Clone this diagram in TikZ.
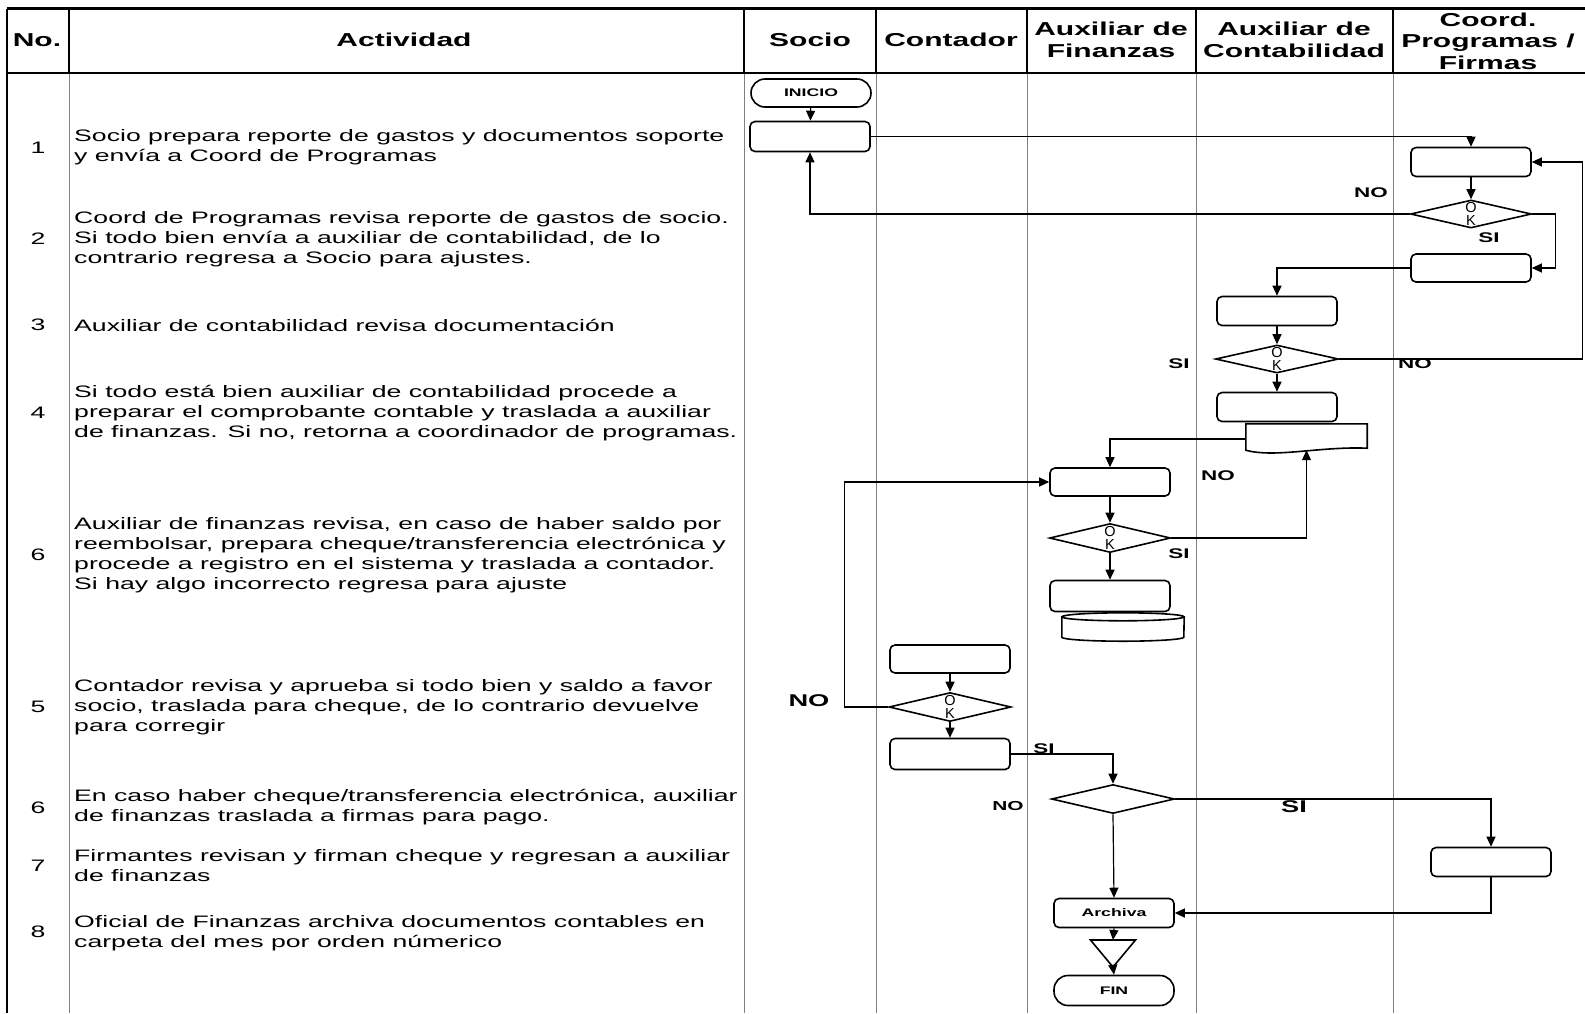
\documentclass[tikz,border=0pt]{standalone}
\usepackage{fontspec}
\setmainfont{Liberation Sans}[FakeStretch=1.605]
\newfontfamily\okfont{Liberation Sans}
\usetikzlibrary{arrows.meta,shapes.geometric}

\def\ytop{8.5}
\def\yhead{73}
\def\ybase{1013}

\tikzset{
  caja/.style={draw,line width=1.6pt,rounded corners=5pt,minimum width=120pt,minimum height=29pt,inner sep=0pt},
  term/.style={caja,rounded corners=14pt,font=\fontsize{11}{12}\selectfont\bfseries},
  decision/.style={draw,diamond,line width=1.6pt,minimum width=121pt,minimum height=28pt,inner sep=0pt},
  ok/.style={label={[font=\okfont\fontsize{14.5}{13}\selectfont,align=center,inner sep=0pt]center:O\\K}},
  flecha/.style={-{Triangle[length=10pt,width=9pt]},line width=1.2pt},
  linea/.style={line width=1.2pt},
  etq/.style={font=\fontsize{14}{16}\selectfont\bfseries,inner sep=0pt},
  encab/.style={font=\fontsize{18.7}{21.5}\selectfont\bfseries,align=center},
  texto/.style={font=\fontsize{16.6}{20}\selectfont,align=left,anchor=west,inner sep=0pt},
  num/.style={font=\fontsize{16.6}{20}\selectfont}
}

\begin{document}
\begin{tikzpicture}[x=1pt,y=-1pt]
\useasboundingbox (0,0) rectangle (1585,1013);
\foreach \x in {69,744,876,1027,1196,1393} {
  \draw[line width=0.9pt,gray] (\x,\yhead) -- (\x,\ybase);
  \draw[line width=2.5pt] (\x,\ytop) -- (\x,\yhead);
}
\draw[line width=2.5pt] (7,\ytop) -- (1585,\ytop);
\draw[line width=2.5pt] (7,\yhead) -- (1585,\yhead);
\draw[line width=2.5pt] (7,\ytop) -- (7,\ybase);

\node[encab] (hno) at (37,40) {No.};
\node[encab] (hact) at (404,40) {Actividad};
\node[encab] (hsocio) at (810,40) {Socio};
\node[encab] (hcontador) at (951,40) {Contador};
\node[encab] (hfin) at (1111,40) {Auxiliar de\\Finanzas};
\node[encab] (hcont) at (1294,40) {Auxiliar de\\Contabilidad};
\node[encab] (hcoord) at (1488,41) {Coord.\\Programas /\\Firmas};

\node[num] (n1) at (38,148) {1};
\node[texto] (act1) at (74,147) {Socio prepara reporte de gastos y documentos soporte\\y envía a Coord de Programas};
\node[num] (n2) at (38,239) {2};
\node[texto] (act2) at (74,239) {Coord de Programas revisa reporte de gastos de socio.\\Si todo bien envía a auxiliar de contabilidad, de lo\\contrario regresa a Socio para ajustes.};
\node[num] (n3) at (38,325) {3};
\node[texto] (act3) at (74,325) {Auxiliar de contabilidad revisa documentación};
\node[num] (n4) at (38,413) {4};
\node[texto] (act4) at (74,413) {Si todo está bien auxiliar de contabilidad procede a\\preparar el comprobante contable y traslada a auxiliar\\de finanzas. Si no, retorna a coordinador de programas.};
\node[num] (n6a) at (38,555) {6};
\node[texto] (act6a) at (74,555) {Auxiliar de finanzas revisa, en caso de haber saldo por\\reembolsar, prepara cheque/transferencia electrónica y\\procede a registro en el sistema y traslada a contador.\\Si hay algo incorrecto regresa para ajuste};
\node[num] (n5) at (38,707) {5};
\node[texto] (act5) at (74,707) {Contador revisa y aprueba si todo bien y saldo a favor\\socio, traslada para cheque, de lo contrario devuelve\\para corregir};
\node[num] (n6b) at (38,808) {6};
\node[texto] (act6b) at (74,807) {En caso haber cheque/transferencia electrónica, auxiliar\\de finanzas traslada a firmas para pago.};
\node[num] (n7) at (38,866) {7};
\node[texto] (act7) at (74,866) {Firmantes revisan y firman cheque y regresan a auxiliar\\de finanzas};
\node[num] (n8) at (38,932) {8};
\node[texto] (act8) at (74,933) {Oficial de Finanzas archiva documentos contables en\\carpeta del mes por orden númerico};

\node[term,minimum height=28pt] (inicio) at (811,93) {INICIO};
\node[caja,minimum height=30pt] (socio) at (810,136.5) {};
\node[caja] (revcoord) at (1471,162) {};
\node[decision,ok] (okcoord) at (1471,214) {};
\node[caja,minimum height=28pt] (envcoord) at (1471,268) {};
\node[caja] (revcont) at (1277,311) {};
\node[decision,ok,minimum width=123pt] (okcont) at (1277,359) {};
\node[caja] (comprob) at (1277,407) {};
\node[minimum width=121pt,minimum height=30pt,inner sep=0pt] (doc) at (1306.5,439) {};
\node[caja,minimum height=28pt] (revfin) at (1110,482) {};
\node[decision,ok,minimum height=29pt] (okfin) at (1110,538) {};
\node[caja,minimum height=31pt] (regfin) at (1110,596) {};
\node[minimum width=122pt,minimum height=28pt,inner sep=0pt] (disco) at (1123,627) {};
\node[caja,minimum height=28pt] (revcontador) at (950,659) {};
\node[decision,ok,minimum width=122pt,minimum height=29pt] (okcontador) at (950,707) {};
\node[caja,minimum height=31pt] (aprob) at (950,754) {};
\node[decision,minimum width=123pt,minimum height=29pt] (okcheque) at (1113,799) {};
\node[caja] (firmas) at (1491,862) {};
\node[caja,font=\fontsize{11}{12}\selectfont\bfseries] (archiva) at (1114,913) {Archiva};
\coordinate (tri) at (1113,940);
\coordinate (triv) at (1113,967);
\node[term,minimum height=30pt] (fin) at (1114,990.5) {FIN};

\draw[line width=1.6pt] (doc.north west) -- (doc.north east) -- ([yshift=6pt]doc.south east) .. controls ([xshift=13.5pt,yshift=8pt]doc.south) and ([xshift=-31.5pt,yshift=-4pt]doc.south) .. ([yshift=4pt]doc.south west) -- cycle;
\coordinate (docin) at ([yshift=4pt]doc.south);
\draw[line width=1.6pt] ([yshift=-4pt]disco.north west) -- ([yshift=4pt]disco.south west) arc[start angle=180,end angle=360,x radius=61pt,y radius=4pt] -- ([yshift=-4pt]disco.north east);
\draw[line width=1.6pt] ([yshift=-4pt]disco.north) ellipse[x radius=61pt,y radius=4pt];
\draw[line width=1.6pt] ([xshift=-22.5pt]tri) -- ([xshift=22.5pt]tri) -- (triv) -- cycle;

\draw[flecha] (inicio) -- (socio);
\draw[flecha] (socio.east) -| (revcoord.north);
\draw[flecha] (revcoord) -- (okcoord);
\draw[flecha] (okcoord.west) -| (socio.south);
\draw[flecha] (okcoord.east) -- ++(23,0) |- (envcoord.east);
\draw[flecha] (envcoord.west) -| (revcont.north);
\draw[flecha] (revcont) -- (okcont);
\draw[flecha] (okcont.east) -- ++(243.5,0) |- (revcoord.east);
\draw[flecha] (okcont) -- (comprob);
\draw[flecha] (doc.west) -| (revfin.north);
\draw[flecha] (revfin) -- (okfin);
\draw[flecha] (okfin.east) -| (docin);
\draw[flecha] (okfin) -- (regfin);
\draw[flecha] (revcontador) -- (okcontador);
\draw[flecha] (okcontador) -- (aprob);
\draw[flecha] (okcontador.west) -- ++(-44,0) |- (revfin.west);
\draw[flecha] (aprob.east) -| (okcheque.north);
\draw[flecha] (okcheque.east) -| (firmas.north);
\draw[flecha] (firmas.south) |- (archiva.east);
\draw[flecha] (okcheque.south) -- (archiva.north);
\draw[flecha] (archiva.south) -- (tri);
\draw[flecha] (triv) -- (fin.north);

\node[etq] (no1) at (1371,193) {NO};
\node[etq] (si1) at (1489,238) {SI};
\node[etq] (si2) at (1179,364) {SI};
\node[etq] (no2) at (1415,364) {NO};
\node[etq] (no3) at (1218,476) {NO};
\node[etq] (si3) at (1179,554) {SI};
\node[etq,font=\fontsize{17}{19}\selectfont\bfseries] (no4) at (809,701) {NO};
\node[etq] (si4) at (1044,749) {SI};
\node[etq,font=\fontsize{13}{15}\selectfont\bfseries] (no5) at (1008,806) {NO};
\node[etq,font=\fontsize{17}{19}\selectfont\bfseries] (si5) at (1294,807) {SI};
\end{tikzpicture}
\end{document}
